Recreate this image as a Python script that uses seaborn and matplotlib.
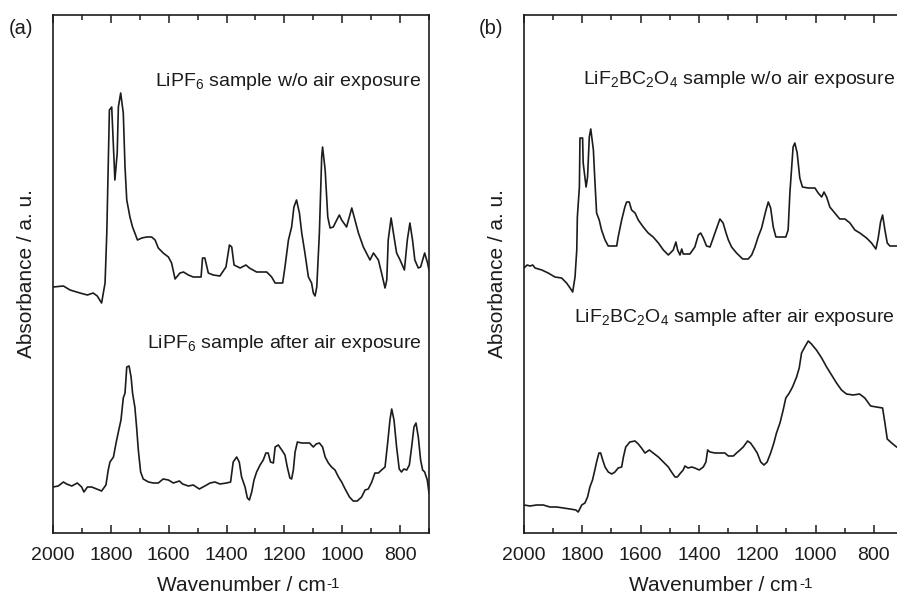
import numpy as np
import pandas as pd
import matplotlib
matplotlib.use("Agg")
import matplotlib.pyplot as plt
from matplotlib.ticker import MultipleLocator
import seaborn as sns

# ---- data (absorbance in arbitrary units) ----
a_top_wn = [2000, 1964, 1941, 1907, 1881, 1861, 1847, 1832, 1820, 1814, 1805, 1797, 1791, 1786, 1778, 1774, 1766, 1757, 1751, 1745, 1734, 1725, 1717, 1708, 1693, 1676, 1659, 1647, 1636, 1619, 1601, 1590, 1578, 1561, 1549, 1532, 1515, 1488, 1483, 1475, 1463, 1446, 1423, 1402, 1390, 1382, 1374, 1353, 1333, 1321, 1296, 1261, 1244, 1232, 1206, 1198, 1186, 1175, 1167, 1158, 1148, 1140, 1129, 1117, 1106, 1100, 1094, 1088, 1079, 1071, 1068, 1059, 1050, 1042, 1031, 1019, 1010, 1002, 985, 967, 956, 944, 927, 904, 892, 875, 864, 852, 846, 841, 831, 823, 812, 800, 785, 775, 766, 757, 749, 737, 729, 715, 705, 700]
a_top_abs = [246, 247, 243, 240, 238, 240, 237, 230, 250, 300, 423, 426, 386, 353, 380, 426, 440, 420, 366, 333, 316, 306, 300, 293, 295, 296, 296, 293, 285, 280, 276, 270, 254, 260, 261, 258, 256, 256, 275, 275, 260, 258, 257, 266, 288, 286, 268, 265, 268, 265, 261, 261, 256, 250, 250, 266, 293, 306, 326, 333, 320, 300, 280, 256, 250, 240, 237, 246, 300, 376, 386, 363, 316, 305, 306, 313, 318, 313, 306, 325, 313, 300, 286, 273, 280, 273, 260, 245, 253, 293, 315, 300, 280, 273, 263, 293, 310, 293, 273, 265, 266, 280, 270, 263]

a_bot_wn = [2000, 1982, 1964, 1953, 1935, 1916, 1901, 1893, 1881, 1866, 1849, 1832, 1817, 1809, 1803, 1791, 1782, 1774, 1765, 1757, 1751, 1745, 1737, 1730, 1725, 1717, 1711, 1705, 1697, 1688, 1670, 1653, 1636, 1619, 1601, 1584, 1563, 1552, 1532, 1515, 1494, 1475, 1457, 1440, 1423, 1400, 1386, 1377, 1365, 1356, 1348, 1336, 1328, 1321, 1313, 1305, 1296, 1284, 1273, 1264, 1256, 1248, 1238, 1232, 1221, 1209, 1198, 1190, 1181, 1175, 1169, 1163, 1155, 1140, 1125, 1113, 1100, 1090, 1079, 1068, 1059, 1048, 1037, 1025, 1013, 1002, 990, 975, 962, 948, 933, 921, 910, 898, 887, 875, 864, 852, 843, 835, 829, 821, 812, 803, 795, 787, 777, 768, 760, 752, 745, 737, 729, 722, 715, 706, 700]
a_bot_abs = [46, 47, 51, 49, 47, 50, 46, 41, 46, 46, 44, 42, 48, 63, 71, 76, 90, 101, 113, 135, 140, 166, 167, 156, 140, 126, 106, 83, 61, 54, 51, 50, 50, 54, 53, 50, 52, 49, 47, 48, 44, 47, 50, 51, 49, 50, 51, 71, 76, 71, 56, 46, 35, 33, 41, 53, 61, 68, 73, 80, 80, 71, 70, 86, 88, 83, 78, 66, 55, 54, 63, 81, 91, 90, 90, 90, 86, 89, 90, 86, 76, 70, 66, 63, 56, 51, 44, 36, 32, 32, 36, 43, 44, 51, 60, 60, 63, 66, 90, 113, 124, 113, 86, 64, 61, 64, 63, 68, 86, 106, 110, 96, 73, 63, 61, 53, 40]

b_top_wn = [2000, 1989, 1979, 1970, 1962, 1939, 1917, 1894, 1871, 1854, 1842, 1833, 1825, 1819, 1817, 1810, 1808, 1799, 1797, 1787, 1782, 1776, 1771, 1762, 1757, 1751, 1742, 1734, 1722, 1711, 1682, 1677, 1665, 1654, 1648, 1639, 1631, 1619, 1608, 1591, 1574, 1557, 1539, 1522, 1505, 1488, 1479, 1473, 1465, 1459, 1454, 1431, 1414, 1402, 1394, 1385, 1374, 1362, 1351, 1339, 1328, 1317, 1307, 1299, 1288, 1271, 1250, 1231, 1219, 1208, 1197, 1185, 1170, 1162, 1154, 1145, 1136, 1125, 1102, 1094, 1088, 1082, 1077, 1071, 1063, 1054, 1045, 1025, 1002, 991, 979, 971, 962, 951, 934, 917, 899, 882, 865, 848, 825, 808, 793, 785, 777, 770, 762, 754, 745, 722, 700]
b_top_abs = [265, 268, 267, 268, 265, 263, 260, 256, 255, 250, 245, 241, 256, 283, 316, 346, 395, 395, 370, 346, 356, 396, 404, 383, 353, 320, 313, 303, 293, 287, 287, 296, 313, 326, 331, 331, 323, 320, 313, 306, 300, 296, 290, 283, 278, 283, 291, 283, 278, 284, 279, 279, 286, 298, 300, 295, 287, 286, 295, 305, 314, 310, 300, 293, 286, 280, 274, 274, 278, 286, 296, 305, 323, 331, 325, 306, 296, 296, 296, 303, 340, 365, 386, 390, 380, 355, 346, 345, 345, 340, 336, 341, 336, 326, 320, 314, 314, 310, 303, 300, 295, 290, 284, 295, 311, 318, 303, 290, 287, 287, 287]

b_bot_wn = [2000, 1979, 1957, 1934, 1911, 1888, 1865, 1842, 1822, 1814, 1802, 1791, 1782, 1774, 1765, 1757, 1751, 1743, 1737, 1730, 1722, 1711, 1699, 1688, 1677, 1665, 1659, 1651, 1637, 1619, 1608, 1597, 1585, 1570, 1557, 1539, 1522, 1505, 1494, 1482, 1474, 1463, 1454, 1448, 1437, 1425, 1414, 1399, 1385, 1376, 1370, 1362, 1345, 1328, 1311, 1299, 1282, 1271, 1259, 1248, 1233, 1223, 1211, 1200, 1188, 1177, 1166, 1154, 1143, 1134, 1122, 1111, 1102, 1090, 1079, 1065, 1056, 1048, 1037, 1025, 1014, 997, 979, 962, 945, 928, 911, 894, 871, 849, 831, 811, 791, 770, 762, 754, 739, 722, 700]
b_bot_abs = [28, 27, 28, 28, 26, 26, 25, 24, 23, 21, 28, 30, 36, 46, 53, 63, 71, 80, 80, 73, 66, 61, 59, 61, 65, 66, 76, 86, 91, 92, 89, 85, 80, 83, 80, 76, 71, 66, 61, 56, 56, 60, 63, 67, 65, 66, 65, 63, 66, 71, 83, 81, 80, 80, 80, 77, 77, 80, 83, 86, 92, 90, 85, 80, 71, 68, 71, 80, 90, 100, 110, 123, 135, 140, 146, 156, 165, 180, 186, 192, 189, 183, 175, 166, 158, 150, 143, 139, 138, 139, 135, 127, 126, 125, 110, 94, 90, 86, 84]

tick_values = [2000, 1800, 1600, 1400, 1200, 1000, 800]
panel_labels = ["(a)", "(b)"]
texts_a = ["LiPF$_6$ sample w/o air exposure", "LiPF$_6$ sample after air exposure"]
texts_b = ["LiF$_2$BC$_2$O$_4$ sample w/o air exposure", "LiF$_2$BC$_2$O$_4$ sample after air exposure"]

sns.set_style("ticks")
plt.rcParams['font.family'] = ['Liberation Sans', 'DejaVu Sans']
plt.rcParams['mathtext.fontset'] = 'custom'
plt.rcParams['mathtext.rm'] = 'Liberation Sans'
plt.rcParams['mathtext.it'] = 'Liberation Sans'
plt.rcParams['mathtext.default'] = 'regular'

INK = '#1c1c1c'
fig = plt.figure(figsize=(8.97, 5.96), dpi=100)
axA = fig.add_axes([53/897, 1-533/596, 376/897, 518/596])
axB = fig.add_axes([524/897, 1-533/596, 379/897, 518/596])

def draw(ax, series):
    for wn, ab in series:
        df = pd.DataFrame({"wn": wn, "abs": ab})
        sns.lineplot(data=df, x="wn", y="abs", ax=ax, sort=False, estimator=None,
                     color=INK, linewidth=1.2)
    ax.set_xlim(2000, 700)
    ax.set_ylim(0, 518)
    ax.set_yticks([])
    ax.set_xticks(tick_values)
    ax.xaxis.set_minor_locator(MultipleLocator(100))
    ax.tick_params(axis='x', which='both', direction='in', top=True, bottom=True,
                   labelsize=14, pad=10, color=INK, labelcolor=INK)
    ax.tick_params(axis='x', which='major', length=5.5, width=1.1)
    ax.tick_params(axis='x', which='minor', length=3.5, width=1.1)
    for s in ax.spines.values():
        s.set_color(INK)
        s.set_linewidth(1.2)
    ax.set_xlabel("Wavenumber / cm", fontsize=15, labelpad=9, color=INK)
    ax.set_ylabel("Absorbance / a. u.", fontsize=15, labelpad=12, color=INK)
    ax.annotate("-1", xy=(1.0, 0.0), xycoords=ax.xaxis.label, xytext=(1.0, 5.0),
                textcoords='offset points', ha='left', va='baseline', fontsize=11, color=INK)

draw(axA, [(a_top_wn, a_top_abs), (a_bot_wn, a_bot_abs)])
draw(axB, [(b_top_wn, b_top_abs), (b_bot_wn, b_bot_abs)])

fs = 14
fig.text(421/897, 1-82/596, texts_a[0], ha='right', va='center', fontsize=fs, color=INK)
fig.text(422/897, 1-343/596, texts_a[1], ha='right', va='center', fontsize=fs, color=INK)
fig.text(895/897, 1-80/596, texts_b[0], ha='right', va='center', fontsize=fs, color=INK)
fig.text(895/897, 1-317/596, texts_b[1], ha='right', va='center', fontsize=fs, color=INK)
fig.text(9/897, 1-28/596, panel_labels[0], ha='left', va='center', fontsize=14.5, color=INK)
fig.text(479/897, 1-28/596, panel_labels[1], ha='left', va='center', fontsize=14.5, color=INK)

fig.savefig("out.png", dpi=100)
